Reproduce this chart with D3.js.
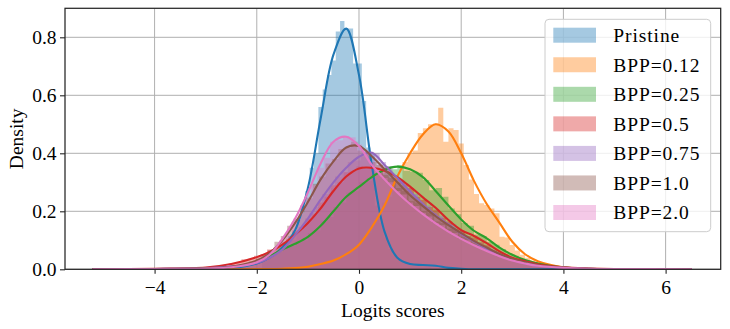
<!DOCTYPE html>
<html><head><meta charset="utf-8">
<script src="https://cdn.jsdelivr.net/npm/d3@7"></script>
<style>
body{margin:0;background:#fff}
svg{display:block}
text{font-family:"Liberation Serif","DejaVu Serif",serif;fill:#000}
</style>
</head><body><svg id="c" width="730" height="329"></svg>
<script>
// ---------------- DATA ----------------
const seriesNames = ["Pristine","BPP=0.12","BPP=0.25","BPP=0.5","BPP=0.75","BPP=1.0","BPP=2.0"];
const colors = ["#1f77b4","#ff7f0e","#2ca02c","#d62728","#9467bd","#8c564b","#e377c2"];
const xTicks = [-4,-2,0,2,4,6];
const xTickLabels = ["\u22124","\u22122","0","2","4","6"];
const yTicks = [0,0.2,0.4,0.6,0.8];
const yTickLabels = ["0.0","0.2","0.4","0.6","0.8"];

// KDE curves (sampled at kdeX)
const kdeX = [-5.2,-4,-3,-2.5,-2,-1.75,-1.5,-1.25,-1,-0.75,-0.5,-0.25,0,0.25,0.5,0.75,1,1.25,1.5,1.75,2,2.25,2.5,2.75,3,3.25,3.5,4,4.5,5,6.5];
const kdePristine = [0,0,0.001,0.004,0.02,0.04,0.075,0.135,0.28,0.52,0.74,0.83,0.67,0.36,0.13,0.04,0.018,0.015,0.012,0.005,0.002,0,0,0,0,0,0,0,0,0,0];
const kdeBpp012 = [0,0,0,0,0.001,0.001,0.002,0.004,0.009,0.018,0.03,0.052,0.085,0.145,0.22,0.32,0.40,0.465,0.50,0.475,0.40,0.305,0.225,0.16,0.095,0.052,0.028,0.007,0.001,0,0];
const kdeBpp025 = [0,0.001,0.003,0.008,0.025,0.045,0.068,0.088,0.112,0.15,0.20,0.25,0.284,0.318,0.343,0.354,0.345,0.318,0.27,0.22,0.172,0.133,0.107,0.075,0.05,0.032,0.02,0.006,0.002,0.001,0];
const kdeBpp05 = [0,0.002,0.006,0.018,0.042,0.06,0.085,0.12,0.16,0.21,0.27,0.32,0.348,0.35,0.34,0.318,0.285,0.248,0.212,0.17,0.135,0.115,0.09,0.062,0.04,0.028,0.017,0.007,0.003,0.001,0];
const kdeBpp075 = [0,0.001,0.004,0.01,0.022,0.04,0.068,0.118,0.175,0.24,0.30,0.35,0.388,0.402,0.36,0.315,0.268,0.225,0.186,0.155,0.122,0.096,0.07,0.048,0.032,0.02,0.012,0.005,0.002,0.001,0];
const kdeBpp10 = [0,0.001,0.004,0.009,0.03,0.055,0.1,0.16,0.232,0.31,0.372,0.42,0.425,0.39,0.345,0.30,0.255,0.218,0.183,0.152,0.125,0.098,0.075,0.053,0.036,0.024,0.015,0.006,0.002,0.001,0];
const kdeBpp20 = [0,0.001,0.003,0.007,0.024,0.05,0.105,0.175,0.265,0.365,0.44,0.457,0.425,0.36,0.31,0.265,0.225,0.19,0.158,0.13,0.105,0.083,0.063,0.045,0.03,0.02,0.012,0.005,0.002,0.001,0];

// Histogram bins (first edge, bin width) and densities
const binStarts = [-1.9,-1.45,-2.5,-2.55,-2.47,-2.53,-2.44];
const binWidths = [0.085,0.1,0.125,0.125,0.125,0.125,0.125];
const histPristine = [0.03,0.04,0.05,0.055,0.075,0.09,0.115,0.13,0.17,0.22,0.27,0.35,0.40,0.56,0.62,0.67,0.72,0.82,0.856,0.83,0.83,0.71,0.71,0.58,0.42,0.40,0.22,0.16,0.11,0.07,0.05,0.03,0.025,0.02,0.02,0.015,0.015,0.01,0.008];
const histBpp012 = [0.002,0.003,0.006,0.005,0.01,0.012,0.015,0.022,0.025,0.028,
 0.04,0.045,0.06,0.068,0.08,0.11,0.125,0.17,0.185,0.23,
 0.25,0.31,0.30,0.37,0.40,0.41,0.47,0.486,0.50,0.503,
 0.557,0.44,0.486,0.48,0.434,0.36,0.31,0.26,0.228,0.222,
 0.21,0.193,0.112,0.11,0.084,0.065,0.05,0.04,0.03,0.025,
 0.02,0.014,0.01,0.008,0.006,0.005,0.003,0.002,0.001,0.001];
const histBpp025 = [0.008,0.012,0.02,0.022,0.032,0.038,0.052,0.06,0.075,0.08,
 0.095,0.1,0.125,0.135,0.165,0.18,0.215,0.23,0.265,0.27,
 0.30,0.305,0.33,0.33,0.355,0.345,0.36,0.34,0.336,0.333,
 0.308,0.273,0.28,0.25,0.21,0.19,0.16,0.15,0.12,0.115,
 0.095,0.085,0.07,0.055,0.047,0.036,0.03,0.025,0.017,0.015,
 0.01,0.008,0.006,0.004,0.003,0.002];
const histBpp05 = [0.02,0.025,0.035,0.036,0.047,0.052,0.068,0.075,0.095,0.105,
 0.135,0.145,0.175,0.19,0.23,0.25,0.29,0.30,0.335,0.34,
 0.355,0.345,0.35,0.338,0.34,0.32,0.312,0.29,0.28,0.25,
 0.24,0.215,0.205,0.178,0.165,0.14,0.133,0.115,0.11,0.093,
 0.085,0.065,0.058,0.043,0.038,0.028,0.025,0.018,0.016,0.011,
 0.01,0.007,0.006,0.005,0.004,0.003];
const histBpp075 = [0.01,0.012,0.018,0.02,0.027,0.033,0.05,0.06,0.085,0.1,
 0.135,0.155,0.195,0.215,0.26,0.28,0.32,0.335,0.37,0.375,
 0.39,0.405,0.40,0.37,0.355,0.32,0.305,0.275,0.26,0.23,
 0.22,0.195,0.185,0.16,0.155,0.13,0.115,0.095,0.09,0.072,
 0.065,0.05,0.045,0.034,0.031,0.022,0.02,0.014,0.012,0.008,
 0.007,0.005,0.004,0.003,0.002,0.002];
const histBpp10 = [0.01,0.014,0.017,0.027,0.034,0.052,0.066,0.095,0.115,0.15,
 0.175,0.22,0.245,0.295,0.32,0.365,0.38,0.415,0.42,0.44,
 0.41,0.40,0.37,0.36,0.325,0.315,0.28,0.27,0.235,0.23,
 0.2,0.195,0.165,0.16,0.14,0.135,0.112,0.108,0.09,0.082,
 0.065,0.058,0.044,0.04,0.029,0.026,0.019,0.017,0.011,0.01,
 0.006,0.005,0.004,0.003,0.002,0.002];
const histBpp20 = [0.008,0.009,0.015,0.02,0.03,0.05,0.065,0.1,0.12,0.165,
 0.195,0.25,0.29,0.35,0.385,0.44,0.445,0.46,0.455,0.43,
 0.41,0.37,0.35,0.315,0.3,0.27,0.258,0.23,0.218,0.195,
 0.182,0.16,0.152,0.132,0.125,0.105,0.1,0.085,0.08,0.065,
 0.06,0.045,0.041,0.031,0.028,0.02,0.019,0.013,0.011,0.007,
 0.006,0.004,0.004,0.003,0.002,0.001];

const kdes = [kdePristine,kdeBpp012,kdeBpp025,kdeBpp05,kdeBpp075,kdeBpp10,kdeBpp20];
const hists = [histPristine,histBpp012,histBpp025,histBpp05,histBpp075,histBpp10,histBpp20];

// ---------------- LAYOUT ----------------
const L = 65, R = 720.7, T = 8.3, B = 269.3;
const FS = 19.5;
const x = d3.scaleLinear().domain([-5.753, 7.078]).range([L, R]);
const y = d3.scaleLinear().domain([0, 0.9]).range([B, T]);
const svg = d3.select("#c");

svg.append("defs").append("clipPath").attr("id","clip")
  .append("rect").attr("x",L).attr("y",T).attr("width",R-L).attr("height",B-T);

// grid
const grid = svg.append("g");
grid.selectAll("line.gx").data(xTicks).join("line").attr("class","gx")
  .attr("x1",d=>x(d)).attr("x2",d=>x(d)).attr("y1",T).attr("y2",B)
  .attr("stroke","#b0b0b0").attr("stroke-width",1);
grid.selectAll("line.gy").data(yTicks).join("line").attr("class","gy")
  .attr("x1",L).attr("x2",R).attr("y1",d=>y(d)).attr("y2",d=>y(d))
  .attr("stroke","#b0b0b0").attr("stroke-width",1);

const plot = svg.append("g").attr("clip-path","url(#clip)");

// histograms as step areas
const histArea = d3.area().x(d=>x(d.e)).y0(B).y1(d=>y(d.v)).curve(d3.curveStepAfter);
hists.forEach((vals,s)=>{
  const pts = vals.map((v,i)=>({e: binStarts[s]+i*binWidths[s], v}));
  pts.push({e: binStarts[s]+vals.length*binWidths[s], v: vals[vals.length-1]});
  plot.append("path").datum(pts).attr("d",histArea)
    .attr("fill",colors[s]).attr("fill-opacity",0.4).attr("stroke","none");
});

// KDE lines
const kdeLine = d3.line().x((d,i)=>x(kdeX[i])).y(d=>y(Math.max(0,d))).curve(d3.curveCatmullRom.alpha(0.5));
kdes.forEach((vals,s)=>{
  plot.append("path").datum(vals).attr("d",kdeLine)
    .attr("fill","none").attr("stroke",colors[s]).attr("stroke-width",2.1)
    .attr("stroke-linejoin","round").attr("stroke-linecap","round");
});

// axes
const xAxis = d3.axisBottom(x).tickValues(xTicks).tickFormat((d,i)=>xTickLabels[i]).tickSize(4.5).tickPadding(6.5);
const gx = svg.append("g").attr("transform",`translate(0,${B})`).call(xAxis);
const yAxis = d3.axisLeft(y).tickValues(yTicks).tickFormat((d,i)=>yTickLabels[i]).tickSize(5).tickPadding(3.5);
const gy = svg.append("g").attr("transform",`translate(${L},0)`).call(yAxis);
[gx,gy].forEach(g=>{
  g.select(".domain").remove();
  g.selectAll(".tick line").attr("stroke","#262626").attr("stroke-width",1.1);
  g.selectAll(".tick text").attr("font-family",'"Liberation Serif",serif').attr("font-size",FS).attr("fill","#000");
});

// spines
svg.append("rect").attr("x",L).attr("y",T).attr("width",R-L).attr("height",B-T)
  .attr("fill","none").attr("stroke","#262626").attr("stroke-width",1.25);

// axis labels
svg.append("text").attr("x",(L+R)/2).attr("y",316.7).attr("text-anchor","middle")
  .attr("font-size",FS).text("Logits scores");
svg.append("text").attr("transform",`translate(22.7,${(T+B)/2}) rotate(-90)`).attr("text-anchor","middle")
  .attr("font-size",FS).text("Density");

// legend
const lg = svg.append("g");
lg.append("rect").attr("x",545).attr("y",19.3).attr("width",165.7).attr("height",212.4)
  .attr("rx",4).attr("fill","#fff").attr("fill-opacity",0.8).attr("stroke","#cccccc").attr("stroke-width",1);
const rows = lg.selectAll("g.row").data(seriesNames).join("g").attr("class","row")
  .attr("transform",(d,i)=>`translate(0,${35.2+i*29.55})`);
rows.append("rect").attr("x",553.3).attr("y",-7.5).attr("width",42.7).attr("height",15)
  .attr("fill",(d,i)=>colors[i]).attr("fill-opacity",0.4);
rows.append("text").attr("x",613.3).attr("y",0).attr("dy","0.35em").attr("font-size",FS)
  .attr("letter-spacing","0.9px").text(d=>d);
</script>
</body></html>
